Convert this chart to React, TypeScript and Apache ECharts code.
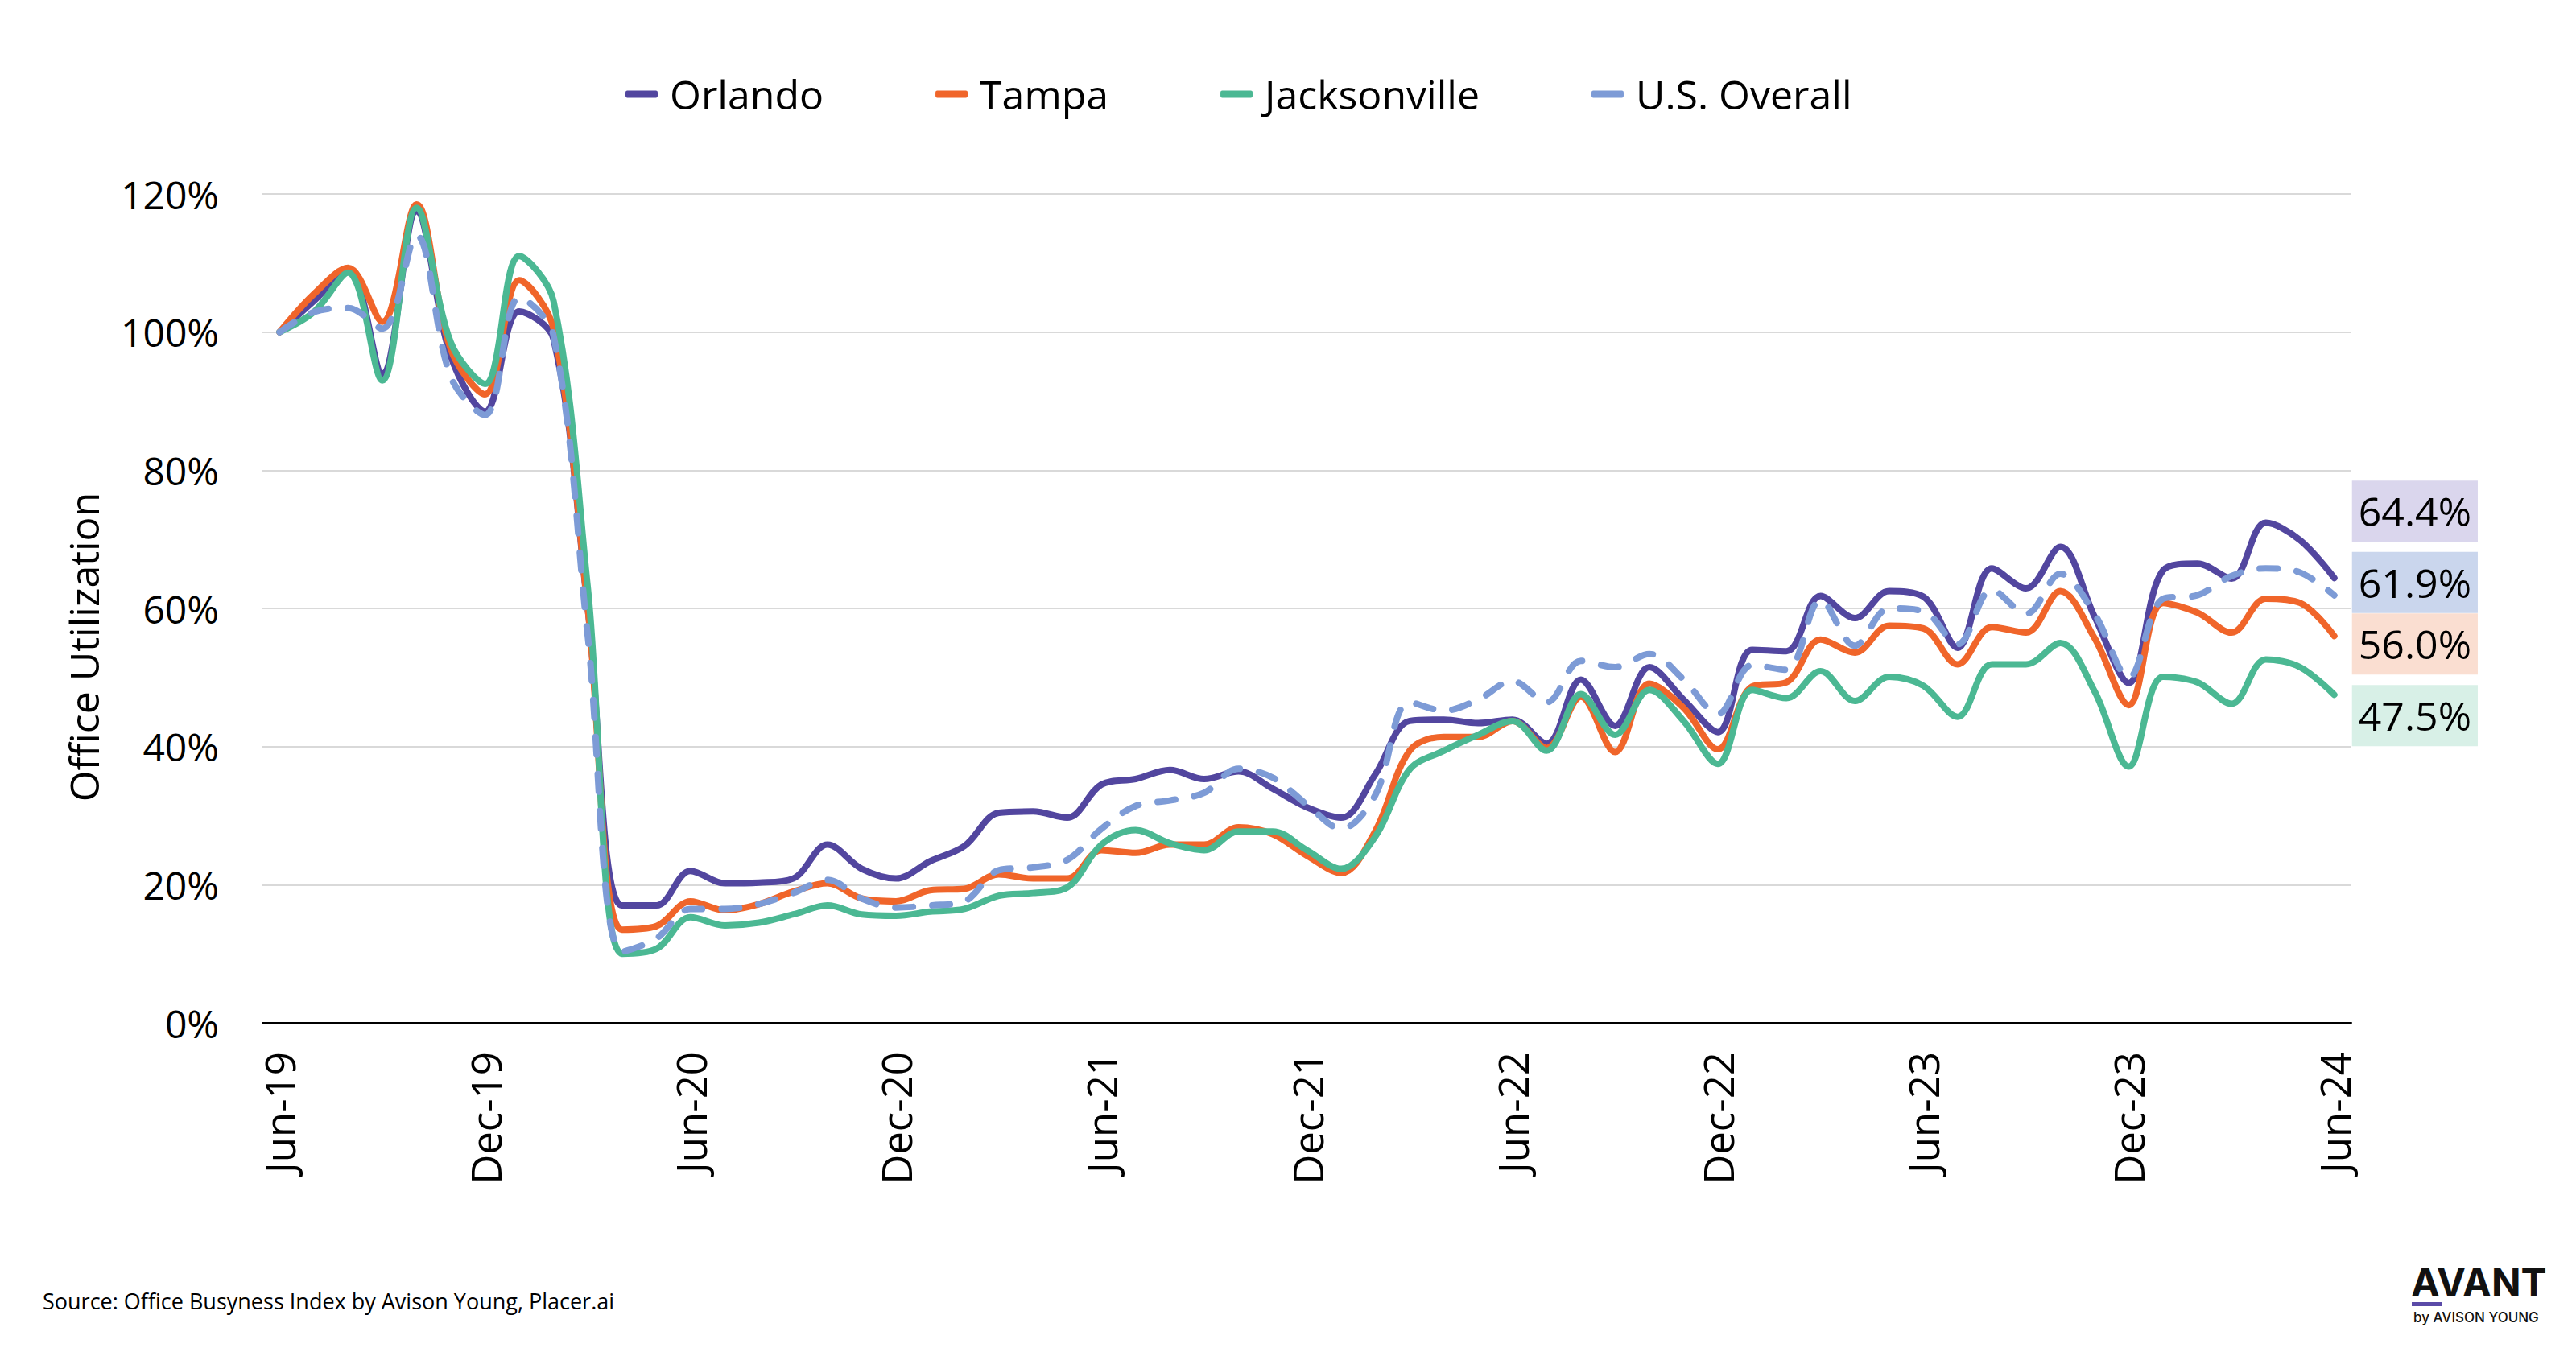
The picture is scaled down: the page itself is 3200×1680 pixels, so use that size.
import React, { useEffect, useRef } from 'react';
import * as echarts from 'echarts';

const months = ['Jun-19','Jul-19','Aug-19','Sep-19','Oct-19','Nov-19','Dec-19','Jan-20','Feb-20','Mar-20','Apr-20','May-20','Jun-20','Jul-20','Aug-20','Sep-20','Oct-20','Nov-20','Dec-20','Jan-21','Feb-21','Mar-21','Apr-21','May-21','Jun-21','Jul-21','Aug-21','Sep-21','Oct-21','Nov-21','Dec-21','Jan-22','Feb-22','Mar-22','Apr-22','May-22','Jun-22','Jul-22','Aug-22','Sep-22','Oct-22','Nov-22','Dec-22','Jan-23','Feb-23','Mar-23','Apr-23','May-23','Jun-23','Jul-23','Aug-23','Sep-23','Oct-23','Nov-23','Dec-23','Jan-24','Feb-24','Mar-24','Apr-24','May-24','Jun-24'];

const orlando = [100,104.5,109,94,117.5,96.5,88.5,103,99,60,17,17,22,20.2,20.3,20.9,25.8,22.3,20.9,23.4,25.6,30.4,30.6,29.7,34.5,35.3,36.6,35.3,36.4,33.9,31.2,29.7,36,43.7,43.9,43.4,43.9,40.4,49.7,43,51.5,46.8,42.1,54,53.8,61.8,58.6,62.5,61.7,54.3,65.8,62.9,68.9,58.8,49.2,65.5,66.5,64.3,72.4,69.9,64.4];
const tampa = [100,105.5,109.3,101.5,118.5,97.5,91,107.5,100.5,60,13.5,14,17.6,16.3,17.2,19,20.2,18,17.6,19.2,19.4,21.5,20.9,20.9,25,24.6,25.8,25.8,28.3,27.3,24.2,21.7,27.8,39.4,41.4,41.4,43.7,39.8,47.2,39.2,49.1,45.6,39.6,48.7,49.3,55.5,53.6,57.5,57.1,51.9,57.3,56.5,62.5,55.7,46,60.8,59.4,56.5,61.4,60.8,56.0];
const jacksonville = [100,102.9,108.6,93,118,98.5,92.5,111,104.5,63,10,10.7,15.3,14.1,14.5,15.7,17,15.7,15.5,16.1,16.5,18.4,18.8,19.6,25.8,27.9,26,25,27.7,27.7,25,22.3,27,36.7,39.4,41.7,43.7,39.4,47.6,41.7,48.2,43.7,37.5,48.2,47,50.9,46.6,50.1,48.8,44.3,51.9,51.9,55,48,37.1,50.1,49.3,46.2,52.6,51.5,47.5];
const usOverall = [100,102.9,103.5,100.5,114,93.5,88,105,99.5,56,10.3,12.2,16.5,16.5,17.2,18.8,20.7,18,16.7,17,17.6,22.1,22.5,23.6,28.1,31.4,32.2,33.3,36.8,35.5,31.6,28.1,33,46.4,45.2,46.8,49.5,46.4,52.4,51.5,53.4,49.7,44.7,51.8,51.1,61.2,54.6,60,59.6,54.8,62.7,59.2,65,59.2,50,61.4,61.9,64.7,65.8,65.2,61.9];

const yTicks = [0, 20, 40, 60, 80, 100, 120];

const FONT = '"Open Sans", sans-serif';

export default function App() {
  const ref = useRef<HTMLDivElement>(null);
  useEffect(() => {
    if (!ref.current) return;
    const chart = echarts.init(ref.current, null, { renderer: 'svg' });
    const mkSeries = (name: string, data: number[], color: string, labelBg: string, dy: number, dashed: boolean) => ({
      name,
      type: 'line',
      data,
      smooth: 0.35,
      showSymbol: false,
      symbol: 'none',
      color,
      lineStyle: {
        color,
        width: 8,
        cap: 'round',
        join: 'round',
        type: dashed ? [22, 24] : 'solid',
      },
      endLabel: {
        show: true,
        formatter: (p: any) => Number(p.value).toFixed(1) + '%',
        distance: 22,
        offset: [0, dy],
        backgroundColor: labelBg,
        padding: [8, 8, 8, 8],
        fontSize: 50,
        lineHeight: 60,
        color: '#000',
        fontFamily: FONT,
      },
      z: dashed ? 3 : 2,
    });
    chart.setOption({
      animation: false,
      backgroundColor: '#fff',
      textStyle: { fontFamily: FONT },
      grid: { left: 326, right: 279, top: 241, bottom: 409, containLabel: false },
      legend: {
        left: 772,
        top: 87,
        itemGap: 139,
        itemWidth: 40,
        itemHeight: 9,
        icon: 'roundRect',
        textStyle: { fontSize: 50, color: '#000', fontFamily: FONT, padding: [0, 0, 0, 10] },
        data: ['Orlando', 'Tampa', 'Jacksonville', 'U.S. Overall'],
      },
      xAxis: {
        type: 'category',
        data: months,
        boundaryGap: true,
        axisLine: { show: true, lineStyle: { color: '#000', width: 2 } },
        axisTick: { show: false },
        axisLabel: {
          interval: 5,
          rotate: 90,
          margin: 36,
          fontSize: 51,
          color: '#000',
          fontFamily: FONT,
        },
        splitLine: { show: false },
      },
      yAxis: {
        type: 'value',
        min: yTicks[0],
        max: yTicks[yTicks.length - 1],
        interval: 20,
        axisLine: { show: false },
        axisTick: { show: false },
        axisLabel: {
          formatter: '{value}%',
          fontSize: 48,
          margin: 54,
          color: '#000',
          fontFamily: FONT,
        },
        splitLine: { lineStyle: { color: '#d9d9d9', width: 2 } },
      },
      series: [
        mkSeries('Orlando', orlando, '#52469f', 'rgb(218,214,237)', -83, false),
        mkSeries('Tampa', tampa, '#f0652a', 'rgb(250,222,209)', 10, false),
        mkSeries('Jacksonville', jacksonville, '#4bb893', 'rgb(216,240,231)', 26, false),
        mkSeries('U.S. Overall', usOverall, '#7d9bd6', 'rgb(202,214,237)', -16, true),
      ],
      graphic: [
        {
          type: 'text',
          x: 104,
          y: 804,
          rotation: Math.PI / 2,
          style: {
            text: 'Office Utilization',
            fontSize: 50,
            fontFamily: FONT,
            fill: '#000',
            textAlign: 'center',
            textVerticalAlign: 'middle',
          },
        },
        {
          type: 'text',
          x: 53,
          y: 1616,
          style: {
            text: 'Source: Office Busyness Index by Avison Young, Placer.ai',
            fontSize: 27,
            fontFamily: FONT,
            fill: '#000',
            textAlign: 'left',
            textVerticalAlign: 'middle',
          },
        },
        {
          type: 'text',
          x: 2995,
          y: 1593,
          style: {
            text: 'AVANT',
            fontSize: 48,
            fontWeight: 700,
            fontFamily: 'Inter, sans-serif',
            fill: '#111',
            textAlign: 'left',
            textVerticalAlign: 'middle',
          },
        },
        {
          type: 'rect',
          shape: { x: 2996, y: 1618, width: 37, height: 5 },
          style: { fill: '#5b4ba8' },
        },
        {
          type: 'text',
          x: 2998,
          y: 1637,
          style: {
            text: 'by AVISON YOUNG',
            fontSize: 17,
            fontWeight: 500,
            fontFamily: 'Inter, sans-serif',
            fill: '#111',
            textAlign: 'left',
            textVerticalAlign: 'middle',
          },
        },
      ],
    });
    return () => chart.dispose();
  }, []);
  return <div ref={ref} style={{ position: 'fixed', left: 0, top: 0, width: 3200, height: 1680 }} />;
}
